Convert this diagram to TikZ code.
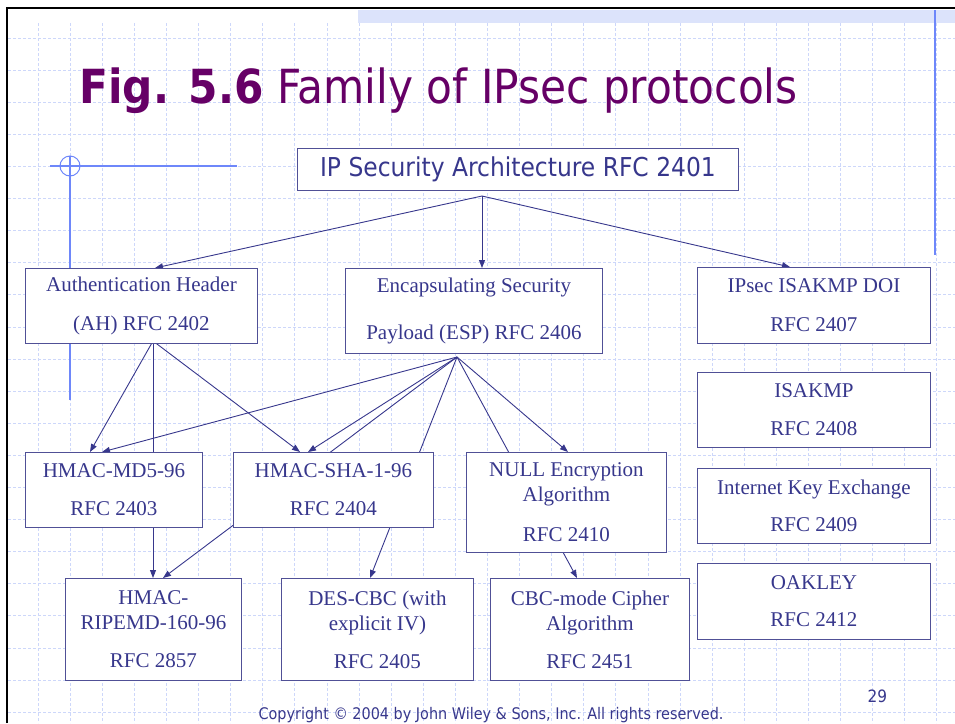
\documentclass[tikz,border=0pt]{standalone}
\usepackage{fontspec}
\setmainfont{Liberation Serif}
\newfontfamily\tahoma[FakeStretch=0.9]{DejaVu Sans}
\usetikzlibrary{arrows.meta}
\definecolor{ink}{RGB}{55,55,140}
\definecolor{rim}{RGB}{80,80,150}
\definecolor{plum}{RGB}{102,0,102}
\definecolor{gridc}{RGB}{205,215,250}
\definecolor{deco}{RGB}{110,135,250}
\pgfdeclarelayer{bg}
\pgfdeclarelayer{links}
\pgfsetlayers{bg,links,main}
\tikzset{
  rfc/.style={draw=rim, line width=0.9pt, fill=white, anchor=north west, inner sep=0pt,
    align=center, text=ink, font=\fontsize{21}{25}\selectfont},
  link/.style={draw=ink, line width=0.9pt, -{Triangle[length=8pt,width=6pt]}},
}
\begin{document}
\begin{tikzpicture}[x=1pt, y=-1pt]
	\useasboundingbox (0,0) rectangle (955,723);
	\begin{pgfonlayer}{bg}
	\foreach \k in {0,...,28}
		\draw[gridc, line width=0.8pt, dash pattern=on 3pt off 2pt] (38+32.1*\k,23) -- (38+32.1*\k,723);
	\foreach \k in {0,...,21}
		\draw[gridc, line width=0.8pt, dash pattern=on 3pt off 2pt] (8,38+32.1*\k) -- (955,38+32.1*\k);
	\fill[gridc!70] (358,10) rectangle (955,23);
	\draw[line width=2.8pt] (7,723) -- (7,8) -- (955,8);
	\draw[deco, line width=1.2pt] (50,166) -- (237,166);
	\draw[deco, line width=1.2pt] (70,156) -- (70,400);
	\draw[deco, line width=1pt] (70,166) circle[radius=10pt];
	\draw[deco, line width=1.5pt] (935,10) -- (935,255);
	\end{pgfonlayer}

	\node[anchor=base west, text=plum, font=\tahoma\fontsize{47}{47}\selectfont] (title) at (76,103)
		{\textbf{Fig. 5.6} Family of IPsec protocols};
	\node[rfc, font=\tahoma\fontsize{26}{26}\selectfont, minimum width=441pt, minimum height=42pt] (ip) at (297,148)
		{IP Security Architecture RFC 2401};

	\node[rfc, minimum width=232pt, minimum height=75pt] (ah) at (25,268) {Authentication Header\\[14pt](AH) RFC 2402};
	\node[rfc, minimum width=257pt, minimum height=85pt] (esp) at (345,268) {Encapsulating Security\\[22pt]Payload (ESP) RFC 2406};
	\node[rfc, minimum width=233pt, minimum height=76pt] (doi) at (697,267) {IPsec ISAKMP DOI\\[14pt]RFC 2407};
	\node[rfc, minimum width=233pt, minimum height=75pt] (isakmp) at (697,372) {ISAKMP\\[13pt]RFC 2408};
	\node[rfc, minimum width=233pt, minimum height=75pt] (ike) at (697,468) {Internet Key Exchange\\[12pt]RFC 2409};
	\node[rfc, minimum width=233pt, minimum height=76pt] (oakley) at (697,563) {OAKLEY\\[12pt]RFC 2412};

	\node[rfc, minimum width=177pt, minimum height=75pt] (md5) at (25,452) {HMAC-MD5-96\\[13pt]RFC 2403};
	\node[rfc, minimum width=200pt, minimum height=75pt] (sha) at (233,452) {HMAC-SHA-1-96\\[13pt]RFC 2404};
	\node[rfc, minimum width=200pt, minimum height=100pt] (null) at (466,452) {NULL Encryption\\Algorithm\\[15pt]RFC 2410};

	\node[rfc, minimum width=176pt, minimum height=102pt] (ripemd) at (65,578) {HMAC-\\RIPEMD-160-96\\[13pt]RFC 2857};
	\node[rfc, minimum width=192pt, minimum height=102pt] (des) at (281,578) {DES-CBC (with\\explicit IV)\\[13pt]RFC 2405};
	\node[rfc, minimum width=199pt, minimum height=102pt] (cbc) at (490,578) {CBC-mode Cipher\\Algorithm\\[13pt]RFC 2451};

	\node[anchor=base west, text=ink, font=\tahoma\fontsize{17}{17}\selectfont] (page) at (864,702) {29};
	\node[anchor=base, text=ink, font=\tahoma\fontsize{16}{16}\selectfont] (copy) at (491,719)
		{Copyright © 2004 by John Wiley \& Sons, Inc. All rights reserved.};

	\coordinate (ipout) at (482,196);
	\coordinate (ahout) at (153,341);
	\coordinate (espout) at (457,357);
	\begin{pgfonlayer}{links}
	\draw[link] (ipout) -- ([xshift=130pt]ah.north west);
	\draw[link] (ipout) -- ([xshift=137pt]esp.north west);
	\draw[link] (ipout) -- ([xshift=93pt]doi.north west);
	\draw[link] (ahout) -- ([xshift=65pt]md5.north west);
	\draw[link] (ahout) -- ([xshift=88pt]ripemd.north west);
	\draw[link] (ahout) -- ([xshift=67pt]sha.north west);
	\draw[link] (espout) -- ([xshift=77pt]md5.north west);
	\draw[link] (espout) -- ([xshift=75pt]sha.north west);
	\draw[link] (espout) -- ([xshift=98pt]ripemd.north west);
	\draw[link] (espout) -- ([xshift=89pt]des.north west);
	\draw[link] (espout) -- ([xshift=102pt]null.north west);
	\draw[link] (espout) -- ([xshift=87pt]cbc.north west);
	\end{pgfonlayer}
\end{tikzpicture}
\end{document}
